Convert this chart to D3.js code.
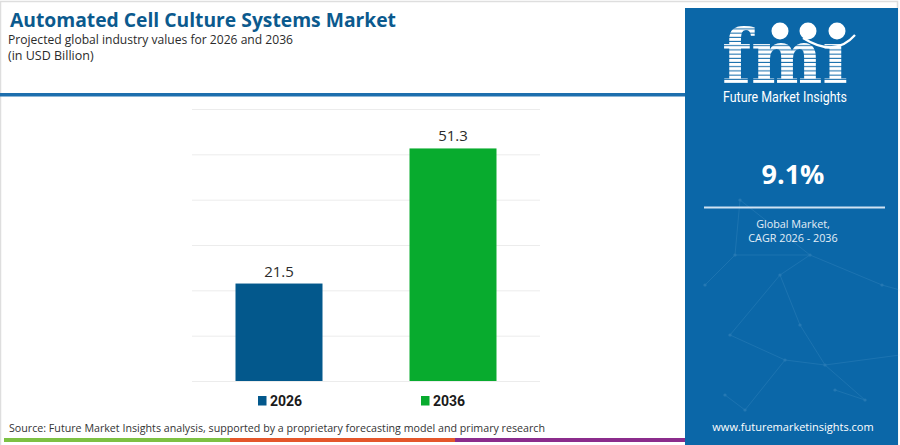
<!DOCTYPE html>
<html>
<head>
<meta charset="utf-8">
<script src="https://cdn.jsdelivr.net/npm/d3@7"></script>
<style>
    html, body { margin: 0; padding: 0; background: #fff; }
    svg { display: block; }
</style>
</head>
<body>
<svg id="chart" width="900" height="445"></svg>
<script>
(function() {
    // Chart values
    const categories = ['2026', '2036'];
    const values = [21.5, 51.3];
    const colors = ['#03588c', '#08ab2e'];
    const yTicks = [0, 10, 20, 30, 40, 50, 60];
    const cagr = '9.1%';

    // Faint network drawing behind the side panel text (decoration only)
    const netNodes = [[20, 285], [50, 255], [55, 200], [125, 255], [197, 285], [215, 290], [240, 295],
                      [95, 275], [45, 335], [100, 360], [140, 365], [215, 355], [225, 330], [180, 400],
                      [60, 410], [150, 390], [40, 395], [115, 325]];
    const netLinks = [[0, 1], [1, 2], [1, 3], [3, 4], [4, 5], [5, 6], [3, 7], [7, 8], [8, 9], [9, 10],
                      [10, 11], [11, 12], [12, 6], [10, 13], [9, 14], [13, 15], [14, 16], [7, 17], [17, 10], [2, 3]];

    const svg = d3.select('#chart');
    const font = "'Open Sans', sans-serif";
    const defs = svg.append('defs');

    // Light frame round the left part
    svg.append('rect')
        .attr('x', 0.5).attr('y', 1.5)
        .attr('width', 897).attr('height', 445)
        .attr('fill', 'none')
        .attr('stroke', '#dedede')
        .attr('stroke-width', 1.5);

    // Header
    svg.append('text')
        .attr('x', 10).attr('y', 26.5)
        .attr('font-family', font)
        .attr('font-weight', 700)
        .attr('font-size', 19)
        .attr('textLength', 386)
        .attr('lengthAdjust', 'spacingAndGlyphs')
        .attr('fill', '#0b5a8e')
        .text('Automated Cell Culture Systems Market');
    svg.append('text')
        .attr('x', 8).attr('y', 44)
        .attr('font-family', font)
        .attr('font-size', 12.5)
        .attr('textLength', 285)
        .attr('lengthAdjust', 'spacingAndGlyphs')
        .attr('fill', '#2b2b2b')
        .text('Projected global industry values for 2026 and 2036');
    svg.append('text')
        .attr('x', 8).attr('y', 60)
        .attr('font-family', font)
        .attr('font-size', 12.5)
        .attr('fill', '#2b2b2b')
        .text('(in USD Billion)');
    svg.append('rect')
        .attr('x', 0).attr('y', 93)
        .attr('width', 686).attr('height', 3.5)
        .attr('fill', '#1d6fae');

    // Scales
    const x = d3.scaleBand()
        .domain(categories)
        .range([192, 540])
        .paddingInner(0.5)
        .paddingOuter(0.25);
    const y = d3.scaleLinear()
        .domain([0, 60])
        .range([381, 109]);

    // Gridlines from a tickless axis
    const grid = svg.append('g')
        .attr('transform', 'translate(192,0)')
        .call(d3.axisLeft(y).tickValues(yTicks).tickSize(-348).tickFormat(''));
    grid.select('.domain').remove();
    grid.selectAll('.tick line').attr('stroke', '#ececec').attr('stroke-width', 1);

    // Bars
    svg.selectAll('rect.bar')
        .data(values)
        .join('rect')
        .attr('class', 'bar')
        .attr('x', (d, i) => x(categories[i]))
        .attr('y', d => y(d))
        .attr('width', x.bandwidth())
        .attr('height', d => y(0) - y(d))
        .attr('fill', (d, i) => colors[i]);

    // Value labels
    svg.selectAll('text.value')
        .data(values)
        .join('text')
        .attr('class', 'value')
        .attr('x', (d, i) => x(categories[i]) + x.bandwidth() / 2)
        .attr('y', d => y(d) - 7)
        .attr('text-anchor', 'middle')
        .attr('font-family', font)
        .attr('font-size', 15)
        .attr('fill', '#2b2b2b')
        .text(d => d.toFixed(1));

    // Legend
    const legend = svg.selectAll('g.legend')
        .data(categories)
        .join('g')
        .attr('class', 'legend')
        .attr('transform', (d, i) => `translate(${258 + i * 163},396)`);
    legend.append('rect')
        .attr('width', 8.5).attr('height', 9.5)
        .attr('fill', (d, i) => colors[i]);
    legend.append('text')
        .attr('x', 12).attr('y', 10)
        .attr('font-family', 'Roboto, sans-serif')
        .attr('font-weight', 700)
        .attr('font-size', 14)
        .attr('fill', '#1a1a1a')
        .text(d => d);

    // Source line and coloured footer stripes
    svg.append('text')
        .attr('x', 9).attr('y', 432)
        .attr('font-family', font)
        .attr('font-size', 11.2)
        .attr('textLength', 536)
        .attr('lengthAdjust', 'spacingAndGlyphs')
        .attr('fill', '#333')
        .text('Source: Future Market Insights analysis, supported by a proprietary forecasting model and primary research');
    const stripes = [['#7dc143', 4, 230], ['#e4562b', 230, 455], ['#8b2c8c', 455, 686]];
    svg.selectAll('rect.stripe')
        .data(stripes)
        .join('rect')
        .attr('class', 'stripe')
        .attr('x', d => d[1]).attr('y', 438)
        .attr('width', d => d[2] - d[1]).attr('height', 4)
        .attr('fill', d => d[0]);

    // Right side panel
    const panel = svg.append('g').attr('transform', 'translate(685,0)');
    panel.append('rect')
        .attr('x', 0).attr('y', 8)
        .attr('width', 213).attr('height', 437)
        .attr('fill', '#0b67a8');

    const net = panel.append('g').attr('opacity', 0.14);
    net.selectAll('line')
        .data(netLinks)
        .join('line')
        .attr('x1', d => netNodes[d[0]][0]).attr('y1', d => netNodes[d[0]][1])
        .attr('x2', d => netNodes[d[1]][0]).attr('y2', d => netNodes[d[1]][1])
        .attr('stroke', '#9fd0f0')
        .attr('stroke-width', 0.8);
    net.selectAll('circle')
        .data(netNodes)
        .join('circle')
        .attr('cx', d => d[0]).attr('cy', d => d[1])
        .attr('r', 1.6)
        .attr('fill', '#bfe3fa');

    // Logo: "fmi" letters used as a mask over a striped block
    const pat = defs.append('pattern')
        .attr('id', 'stripes')
        .attr('patternUnits', 'userSpaceOnUse')
        .attr('width', 10).attr('height', 4.2);
    pat.append('rect').attr('width', 10).attr('height', 3.2).attr('fill', '#ffffff');

    const logoMask = defs.append('mask')
        .attr('id', 'fmi-mask')
        .attr('maskUnits', 'userSpaceOnUse')
        .attr('x', 685).attr('y', 15).attr('width', 215).attr('height', 72);
    logoMask.append('text')
        .attr('transform', 'translate(722,83) scale(1,1.18)')
        .attr('font-family', "'DejaVu Serif', serif")
        .attr('font-weight', 700)
        .attr('font-size', 64)
        .attr('textLength', 126)
        .attr('lengthAdjust', 'spacingAndGlyphs')
        .attr('fill', '#ffffff')
        .text('fm\u0131');
    svg.append('rect')
        .attr('x', 715).attr('y', 15)
        .attr('width', 140).attr('height', 70)
        .attr('fill', 'url(#stripes)')
        .attr('mask', 'url(#fmi-mask)');

    [95, 123, 152].forEach(cx => {
        panel.append('circle')
            .attr('cx', cx).attr('cy', 31).attr('r', 8.5)
            .attr('fill', '#ffffff');
    });
    panel.append('path')
        .attr('d', 'M118,38 Q150,58 170,35')
        .attr('fill', 'none')
        .attr('stroke', '#ffffff')
        .attr('stroke-width', 2.2);
    panel.append('text')
        .attr('x', 38).attr('y', 102)
        .attr('font-family', 'Roboto, sans-serif')
        .attr('font-size', 14)
        .attr('textLength', 124)
        .attr('lengthAdjust', 'spacingAndGlyphs')
        .attr('fill', '#ffffff')
        .text('Future Market Insights');

    // CAGR block
    panel.append('text')
        .attr('x', 108).attr('y', 184)
        .attr('text-anchor', 'middle')
        .attr('font-family', font)
        .attr('font-weight', 700)
        .attr('font-size', 27)
        .attr('fill', '#ffffff')
        .text(cagr);
    panel.append('rect')
        .attr('x', 19).attr('y', 206.5)
        .attr('width', 181).attr('height', 2)
        .attr('fill', '#cfe2f2');
    panel.append('text')
        .attr('x', 108).attr('y', 228)
        .attr('text-anchor', 'middle')
        .attr('font-family', font)
        .attr('font-size', 10.8)
        .attr('fill', '#e3eef7')
        .text('Global Market,');
    panel.append('text')
        .attr('x', 108).attr('y', 242)
        .attr('text-anchor', 'middle')
        .attr('font-family', font)
        .attr('font-size', 10.8)
        .attr('fill', '#e3eef7')
        .text(`CAGR ${categories[0]} - ${categories[1]}`);
    panel.append('text')
        .attr('x', 108).attr('y', 431)
        .attr('text-anchor', 'middle')
        .attr('font-family', font)
        .attr('font-size', 11)
        .attr('fill', '#ffffff')
        .text('www.futuremarketinsights.com');
})();
</script>
</body>
</html>
